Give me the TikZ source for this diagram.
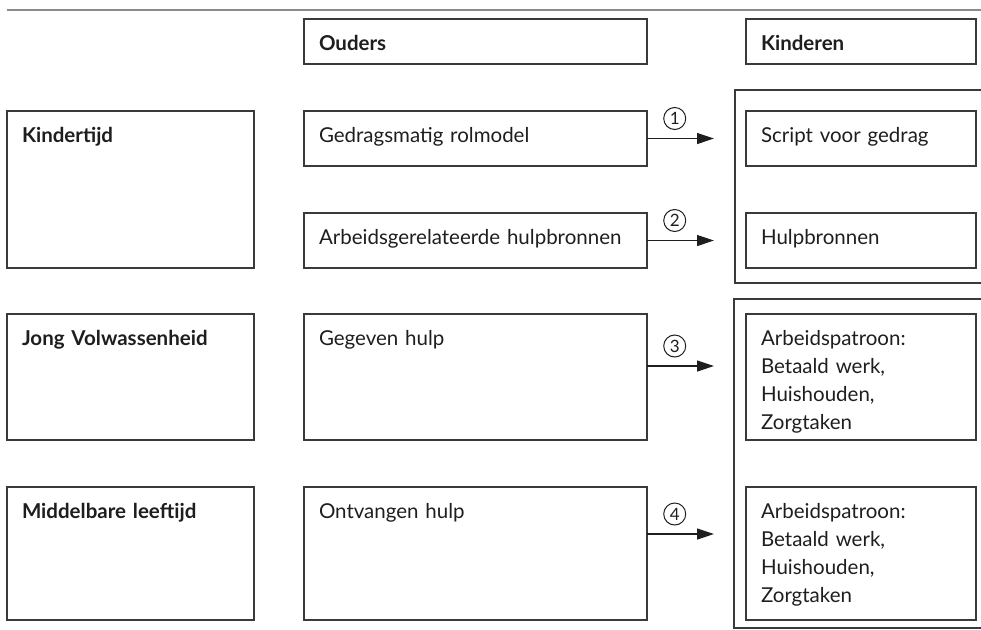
\documentclass[tikz,border=0pt]{standalone}
\usepackage{fontspec}
\setmainfont{Lato}
\usetikzlibrary{arrows.meta, positioning}
\definecolor{rulegray}{HTML}{8C8C8C}
\definecolor{linegray}{HTML}{3A3A3A}
\definecolor{inkgray}{HTML}{1E1E1E}
\tikzset{
  box/.style={draw=linegray, line width=1.2pt, align=left, inner xsep=15pt, inner ysep=10pt, outer sep=0pt, text height=21pt, text=inkgray, font=\fontsize{20.5}{28}\selectfont},
  hdr/.style={text depth=4pt},
  small/.style={text depth=14pt},
  lcol/.style={text width=217pt},
  mcol/.style={text width=313pt},
  rcol/.style={text width=200pt},
  frame/.style={draw=linegray, line width=1.2pt},
  arrow/.style={-{Triangle[length=17pt, width=11pt]}, line width=1.2pt, draw=inkgray, shorten >=32pt},
  num/.style={circle, draw=inkgray, line width=1pt, minimum size=22pt, inner sep=0pt, text=inkgray, font=\fontsize{17}{17}\selectfont, anchor=center, yshift=20pt}
}

\begin{document}
\begin{tikzpicture}[x=1pt, y=-1pt]
  \useasboundingbox (0,0) rectangle (981,629);
  % rule
  \draw[rulegray, line width=2pt] (7,10) -- (981,10);

  % Headers
  \node[box, hdr, mcol, anchor=north west] (ouders) at (304,19) {\textbf{Ouders}};
  \node[box, hdr, rcol, right=99pt of ouders.north east, anchor=north west] (kinderen) {\textbf{Kinderen}};

  % Ouders
  \node[box, small, mcol, below=47pt of ouders.south west, anchor=north west] (rolmodel) {Gedragsmatig rolmodel};
  \node[box, small, mcol, below=47pt of rolmodel.south west, anchor=north west] (bronnen) {Arbeidsgerelateerde hulpbronnen};
  \node[box, mcol, text depth=85pt, below=46pt of bronnen.south west, anchor=north west] (gegeven) {Gegeven hulp};
  \node[box, mcol, text depth=92pt, below=47pt of gegeven.south west, anchor=north west] (ontvangen) {Ontvangen hulp};

  % Levensfasen
  \node[box, lcol, text depth=116pt, left=50pt of rolmodel.north west, anchor=north east] (kindertijd) {\textbf{Kindertijd}};
  \node[box, lcol, text depth=85pt, left=50pt of gegeven.north west, anchor=north east] (jong) {\textbf{Jong Volwassenheid}};
  \node[box, lcol, text depth=92pt, left=50pt of ontvangen.north west, anchor=north east] (middel) {\textbf{Middelbare leeftijd}};

  % Kinderen
  \node[box, small, rcol, right=99pt of rolmodel.north east, anchor=north west] (script) {Script voor gedrag};
  \node[box, small, rcol, right=99pt of bronnen.north east, anchor=north west] (hulp) {Hulpbronnen};
  \node[box, rcol, text depth=85pt, right=99pt of gegeven.north east, anchor=north west] (patroon1) {Arbeidspatroon:\\Betaald werk,\\Huishouden,\\Zorgtaken};
  \node[box, rcol, text depth=92pt, right=99pt of ontvangen.north east, anchor=north west] (patroon2) {Arbeidspatroon:\\Betaald werk,\\Huishouden,\\Zorgtaken};

  % Frames
  \draw[frame] (981,90) -| (735,283) -- (981,283);
  \draw[frame] (981,299) -| (734,628) -- (981,628);

  % Connections
  \coordinate (g3) at ([yshift=-52pt]gegeven.north east);
  \coordinate (g4) at ([yshift=-47pt]ontvangen.north east);
  \draw[arrow] (rolmodel.east) -- (rolmodel.east -| script.west) node[num, pos=.28] {1};
  \draw[arrow] (bronnen.east) -- (bronnen.east -| hulp.west) node[num, pos=.28] {2};
  \draw[arrow] (g3) -- (g3 -| patroon1.west) node[num, pos=.28] {3};
  \draw[arrow] (g4) -- (g4 -| patroon2.west) node[num, pos=.28] {4};
\end{tikzpicture}
\end{document}
